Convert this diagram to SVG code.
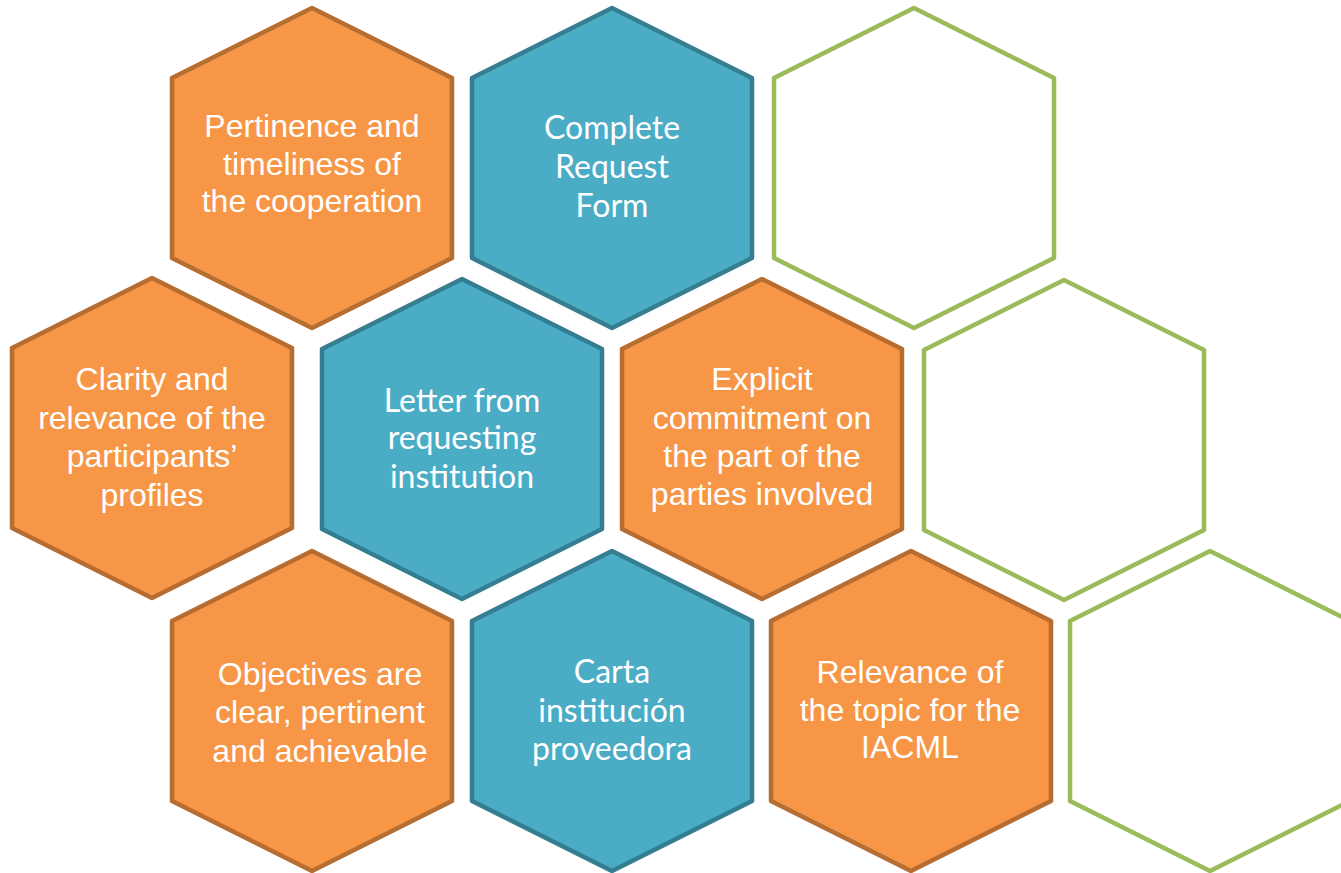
<svg xmlns="http://www.w3.org/2000/svg" xmlns:xlink="http://www.w3.org/1999/xlink" width="1341" height="873" viewBox="0 0 1341 873">
<style>
.orange{fill:#F79646;stroke:#B66D31;stroke-width:4.5;stroke-linejoin:round}
.teal{fill:#4BACC6;stroke:#357D91;stroke-width:4.5;stroke-linejoin:round}
.green{fill:none;stroke:#9BBB59;stroke-width:4.5;stroke-linejoin:round}
.ta{font-family:"Liberation Sans",Arial,sans-serif;font-size:32px;fill:#FFFFFF;text-anchor:middle}
.tc{font-family:Lato,"Open Sans",sans-serif;font-size:32px;fill:#FFFFFF;text-anchor:middle}
</style>
<defs>
<polygon id="hex" points="0,-160 140,-90 140,90 0,160 -140,90 -140,-90"/>
</defs>
<rect width="1341" height="873" fill="#FFFFFF"/>

<g id="pertinence">
<use xlink:href="#hex" href="#hex" class="orange" x="312" y="168"/>
<text class="ta" x="312" y="137">Pertinence and</text>
<text class="ta" x="312" y="175">timeliness of</text>
<text class="ta" x="312" y="212">the cooperation</text>
</g>
<g id="complete-request-form">
<use xlink:href="#hex" href="#hex" class="teal" x="612" y="168"/>
<text class="tc" x="612" y="139">Complete</text>
<text class="tc" x="612" y="178">Request</text>
<text class="tc" x="612" y="217">Form</text>
</g>
<g id="green-1">
<use xlink:href="#hex" href="#hex" class="green" x="914" y="168"/>
</g>

<g id="clarity">
<use xlink:href="#hex" href="#hex" class="orange" x="152" y="438"/>
<text class="ta" x="152" y="390">Clarity and</text>
<text class="ta" x="152" y="429">relevance of the</text>
<text class="ta" x="152" y="467">participants’</text>
<text class="ta" x="152" y="506">profiles</text>
</g>
<g id="letter">
<use xlink:href="#hex" href="#hex" class="teal" x="462" y="439"/>
<text class="tc" x="462" y="412">Letter from</text>
<text class="tc" x="462" y="449">requesting</text>
<text class="tc" x="462" y="488">institution</text>
</g>
<g id="explicit">
<use xlink:href="#hex" href="#hex" class="orange" x="762" y="439"/>
<text class="ta" x="762" y="390">Explicit</text>
<text class="ta" x="762" y="429">commitment on</text>
<text class="ta" x="762" y="467">the part of the</text>
<text class="ta" x="762" y="505">parties involved</text>
</g>
<g id="green-2">
<use xlink:href="#hex" href="#hex" class="green" x="1064" y="440"/>
</g>

<g id="objectives">
<use xlink:href="#hex" href="#hex" class="orange" x="312" y="711"/>
<text class="ta" x="320" y="685">Objectives are</text>
<text class="ta" x="320" y="723">clear, pertinent</text>
<text class="ta" x="320" y="762">and achievable</text>
</g>
<g id="carta">
<use xlink:href="#hex" href="#hex" class="teal" x="612" y="711"/>
<text class="tc" x="612" y="683">Carta</text>
<text class="tc" x="612" y="722">institución</text>
<text class="tc" x="612" y="760">proveedora</text>
</g>
<g id="relevance">
<use xlink:href="#hex" href="#hex" class="orange" x="911" y="711"/>
<text class="ta" x="910" y="683">Relevance of</text>
<text class="ta" x="910" y="721">the topic for the</text>
<text class="ta" x="910" y="758">IACML</text>
</g>
<g id="green-3">
<use xlink:href="#hex" href="#hex" class="green" x="1210" y="711"/>
</g>
</svg>
